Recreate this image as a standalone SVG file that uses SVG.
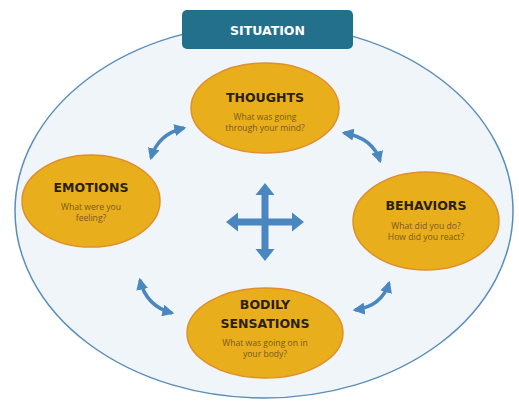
<svg xmlns="http://www.w3.org/2000/svg" width="519" height="402" viewBox="0 0 519 402">
<style>
.node{fill:#e8ae1c;stroke:#e08f2a;stroke-width:1.5}
.title{font-family:"DejaVu Sans",sans-serif;font-weight:bold;font-size:12.5px;fill:#2b1e12;text-anchor:middle}
.sub{font-family:"Open Sans","DejaVu Sans",sans-serif;font-size:8.6px;fill:#7a5a1e;text-anchor:middle}
.arc{fill:none;stroke:#4a86bf;stroke-width:3.5;marker-start:url(#ah);marker-end:url(#ah)}
</style>
<defs>
<marker id="ah" viewBox="0 0 10 10" refX="8" refY="5" markerWidth="12" markerHeight="12" markerUnits="userSpaceOnUse" orient="auto-start-reverse">
<path d="M0,0 L10,5 L0,10 z" fill="#4a86bf"/>
</marker>
</defs>
<rect width="519" height="402" fill="#ffffff"/>
<g id="situation-area">
<ellipse cx="264" cy="211" rx="249" ry="187" fill="#f0f5f9" stroke="#5b8dba" stroke-width="1.5"/>
</g>
<g id="situation">
<rect x="182" y="10" width="171" height="39" rx="5" fill="#22708c"/>
<text x="267.5" y="34.5" font-family="DejaVu Sans,sans-serif" font-weight="bold" font-size="12.5" fill="#ffffff" text-anchor="middle">SITUATION</text>
</g>
<g id="connectors">
<path class="arc" d="M151,158 Q158,134 184,128"/>
<path class="arc" d="M344,133 Q373,138 380,161"/>
<path class="arc" d="M140,280 Q146,306 172,313"/>
<path class="arc" d="M389,283 Q382,306 355,310"/>
<polygon fill="#4a86bf" points="265,183 274.5,195 268.5,195 268.5,218.5 292,218.5 292,212.5 304,222 292,231.5 292,225.5 268.5,225.5 268.5,249 274.5,249 265,261 255.5,249 261.5,249 261.5,225.5 238,225.5 238,231.5 226,222 238,212.5 238,218.5 261.5,218.5 261.5,195 255.5,195"/>
</g>
<g id="thoughts">
<ellipse class="node" cx="265" cy="108" rx="74" ry="45"/>
<text class="title" x="265" y="101.5">THOUGHTS</text>
<text class="sub" x="265" y="119.5">What was going</text>
<text class="sub" x="265" y="131">through your mind?</text>
</g>
<g id="emotions">
<ellipse class="node" cx="91" cy="201" rx="69" ry="46"/>
<text class="title" x="91" y="191.5">EMOTIONS</text>
<text class="sub" x="91" y="209.5">What were you</text>
<text class="sub" x="91" y="221">feeling?</text>
</g>
<g id="behaviors">
<ellipse class="node" cx="426" cy="221" rx="73" ry="49"/>
<text class="title" x="426" y="209.5">BEHAVIORS</text>
<text class="sub" x="426" y="228.5">What did you do?</text>
<text class="sub" x="426" y="240">How did you react?</text>
</g>
<g id="bodily-sensations">
<ellipse class="node" cx="265" cy="333" rx="78" ry="45"/>
<text class="title" x="265" y="308.5">BODILY</text>
<text class="title" x="265" y="327.5">SENSATIONS</text>
<text class="sub" x="265" y="345.5">What was going on in</text>
<text class="sub" x="265" y="357">your body?</text>
</g>
</svg>
